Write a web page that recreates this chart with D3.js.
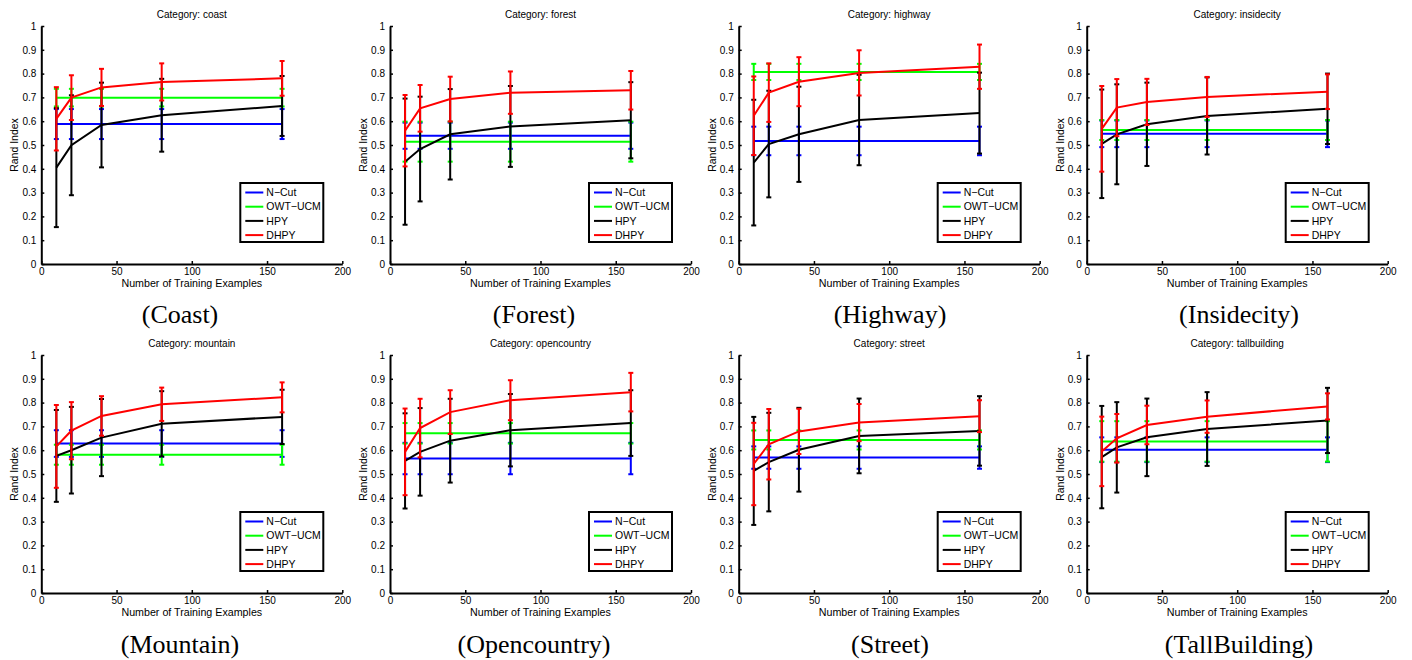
<!DOCTYPE html>
<html>
<head>
<meta charset="utf-8">
<script src="https://cdn.jsdelivr.net/npm/d3@7"></script>
<style>
  body { margin: 0; background: #fff; }
  svg text { font-family: "Liberation Sans", Arial, sans-serif; }
  .caption { font-family: "Liberation Serif", "Times New Roman", serif; }
</style>
</head>
<body>
<div id="chart"></div>
<script>
// training set sizes (x positions of the points)
const xVals = [10, 20, 40, 80, 160];
const categories = ["coast", "forest", "highway", "insidecity", "mountain", "opencountry", "street", "tallbuilding"];
const captions = ["(Coast)", "(Forest)", "(Highway)", "(Insidecity)", "(Mountain)", "(Opencountry)", "(Street)", "(TallBuilding)"];
const seriesNames = ["N\u2212Cut", "OWT\u2212UCM", "HPY", "DHPY"];
const seriesColors = ["#0000ff", "#00ff00", "#000000", "#ff0000"];

// baselines: one value per category (flat line)
const ncutMean = [0.588, 0.539, 0.517, 0.547, 0.628, 0.565, 0.569, 0.602];
const ncutErr  = [0.063, 0.055, 0.060, 0.056, 0.056, 0.066, 0.047, 0.052];
const owtMean  = [0.699, 0.514, 0.807, 0.563, 0.581, 0.671, 0.643, 0.637];
const owtErr   = [0.037, 0.084, 0.034, 0.042, 0.042, 0.043, 0.040, 0.085];

// HPY / DHPY: one row per category, one value per x
const hpyMean = [
  [0.405, 0.499, 0.584, 0.625, 0.664],
  [0.430, 0.483, 0.545, 0.578, 0.604],
  [0.426, 0.504, 0.545, 0.605, 0.634],
  [0.505, 0.545, 0.587, 0.622, 0.652],
  [0.576, 0.600, 0.653, 0.711, 0.740],
  [0.555, 0.593, 0.640, 0.684, 0.714],
  [0.513, 0.550, 0.602, 0.660, 0.681],
  [0.571, 0.612, 0.654, 0.689, 0.725]
];
const hpyErr = [
  [0.250, 0.210, 0.178, 0.153, 0.126],
  [0.265, 0.220, 0.190, 0.170, 0.160],
  [0.264, 0.224, 0.200, 0.190, 0.170],
  [0.228, 0.210, 0.175, 0.162, 0.148],
  [0.193, 0.182, 0.162, 0.137, 0.114],
  [0.200, 0.184, 0.176, 0.152, 0.138],
  [0.227, 0.207, 0.176, 0.157, 0.146],
  [0.215, 0.190, 0.163, 0.155, 0.137]
];
const dhpyMean = [
  [0.610, 0.699, 0.742, 0.765, 0.780],
  [0.560, 0.654, 0.693, 0.720, 0.730],
  [0.623, 0.720, 0.766, 0.803, 0.829],
  [0.568, 0.657, 0.681, 0.702, 0.724],
  [0.616, 0.682, 0.744, 0.793, 0.822],
  [0.593, 0.693, 0.760, 0.810, 0.844],
  [0.542, 0.625, 0.679, 0.716, 0.743],
  [0.595, 0.650, 0.706, 0.741, 0.784]
];
const dhpyErr = [
  [0.133, 0.094, 0.078, 0.078, 0.073],
  [0.150, 0.098, 0.094, 0.089, 0.081],
  [0.165, 0.123, 0.103, 0.095, 0.093],
  [0.180, 0.120, 0.097, 0.084, 0.073],
  [0.174, 0.120, 0.083, 0.070, 0.063],
  [0.182, 0.123, 0.092, 0.084, 0.081],
  [0.173, 0.148, 0.095, 0.078, 0.067],
  [0.146, 0.102, 0.081, 0.068, 0.055]
];

const xTicks = [0, 50, 100, 150, 200];
const yTicks = [0, 0.1, 0.2, 0.3, 0.4, 0.5, 0.6, 0.7, 0.8, 0.9, 1];

const W = 1412, H = 660;
const plotLefts = [41.3, 390, 738.7, 1086.7];
const plotTops = [26, 355];
const pw = 301, ph = 238;
const captionX = [180, 534, 890, 1239];
const captionY = [323, 653];

const svg = d3.select("#chart").append("svg")
  .attr("width", W)
  .attr("height", H);

const x = d3.scaleLinear().domain([0, 200]).range([0, pw]);
const y = d3.scaleLinear().domain([0, 1]).range([ph, 0]);
const line = d3.line().x(d => x(d.x)).y(d => y(d.m));

categories.forEach((cat, i) => {
  const col = i % 4, row = Math.floor(i / 4);
  const g = svg.append("g")
    .attr("transform", `translate(${plotLefts[col]},${plotTops[row]})`);

  // axes
  const ya = g.append("g")
    .call(d3.axisLeft(y).tickValues(yTicks).tickFormat(d3.format("~g"))
      .tickSize(-3).tickSizeOuter(0).tickPadding(5));
  const xa = g.append("g")
    .attr("transform", `translate(0,${ph})`)
    .call(d3.axisBottom(x).tickValues(xTicks)
      .tickSize(-3).tickSizeOuter(0).tickPadding(4));
  [ya, xa].forEach(a => {
    a.select(".domain").attr("stroke-width", 2);
    a.selectAll(".tick line").attr("stroke-width", 1.5);
    a.selectAll(".tick text").attr("font-size", 10).attr("fill", "#000")
      .attr("font-family", "Liberation Sans, Arial, sans-serif");
  });

  g.append("text")
    .attr("x", pw / 2).attr("y", -8)
    .attr("text-anchor", "middle")
    .attr("font-size", 10)
    .text("Category: " + cat);

  g.append("text")
    .attr("x", pw / 2).attr("y", ph + 23)
    .attr("text-anchor", "middle")
    .attr("font-size", 10.7)
    .text("Number of Training Examples");

  g.append("text")
    .attr("transform", `translate(-23,${ph / 2}) rotate(-90)`)
    .attr("text-anchor", "middle")
    .attr("font-size", 10.5)
    .text("Rand Index");

  // build the four series for this category
  const series = [
    xVals.map(v => ({ x: v, m: ncutMean[i], e: ncutErr[i] })),
    xVals.map(v => ({ x: v, m: owtMean[i], e: owtErr[i] })),
    xVals.map((v, j) => ({ x: v, m: hpyMean[i][j], e: hpyErr[i][j] })),
    xVals.map((v, j) => ({ x: v, m: dhpyMean[i][j], e: dhpyErr[i][j] }))
  ];

  series.forEach((pts, s) => {
    const c = seriesColors[s];
    const sg = g.append("g");
    // error bars
    const eb = sg.selectAll(".eb").data(pts).enter().append("g");
    eb.append("line")
      .attr("x1", d => x(d.x)).attr("x2", d => x(d.x))
      .attr("y1", d => y(d.m - d.e)).attr("y2", d => y(d.m + d.e))
      .attr("stroke", c).attr("stroke-width", 2);
    eb.append("line")
      .attr("x1", d => x(d.x) - 2.5).attr("x2", d => x(d.x) + 2.5)
      .attr("y1", d => y(d.m - d.e)).attr("y2", d => y(d.m - d.e))
      .attr("stroke", c).attr("stroke-width", 2);
    eb.append("line")
      .attr("x1", d => x(d.x) - 2.5).attr("x2", d => x(d.x) + 2.5)
      .attr("y1", d => y(d.m + d.e)).attr("y2", d => y(d.m + d.e))
      .attr("stroke", c).attr("stroke-width", 2);
    sg.append("path")
      .datum(pts)
      .attr("d", line)
      .attr("fill", "none")
      .attr("stroke", c)
      .attr("stroke-width", 2);
  });

  // legend
  const lg = g.append("g").attr("transform", `translate(199,157)`);
  lg.append("rect")
    .attr("width", 83).attr("height", 59)
    .attr("fill", "#fff").attr("stroke", "#000").attr("stroke-width", 2);
  seriesNames.forEach((name, s) => {
    const ly = 9.5 + s * 14.2;
    lg.append("line")
      .attr("x1", 5).attr("x2", 23)
      .attr("y1", ly).attr("y2", ly)
      .attr("stroke", seriesColors[s]).attr("stroke-width", 2);
    lg.append("text")
      .attr("x", 26).attr("y", ly + 3.6)
      .attr("font-size", 10.5)
      .text(name);
  });

  svg.append("text")
    .attr("class", "caption")
    .attr("x", captionX[col]).attr("y", captionY[row])
    .attr("text-anchor", "middle")
    .attr("font-size", 26)
    .text(captions[i]);
});
</script>
</body>
</html>
